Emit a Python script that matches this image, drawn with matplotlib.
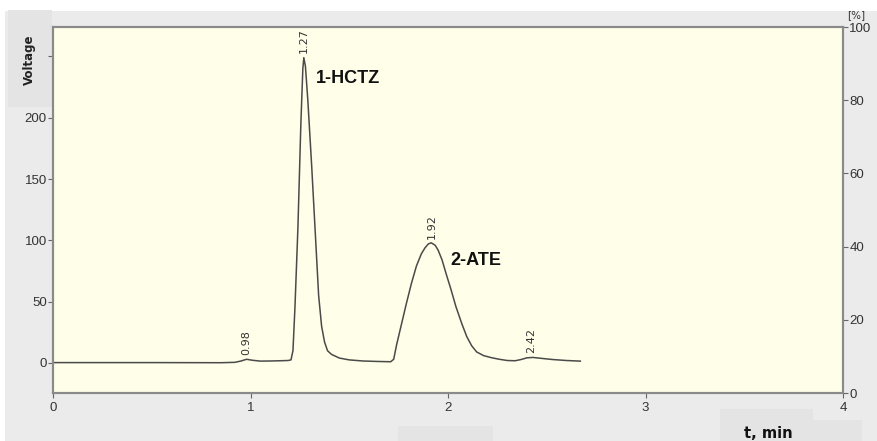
import matplotlib.pyplot as plt
from matplotlib.patches import Rectangle

W, H = 877, 441

# chromatogram trace (t in min, signal in voltage units)
t_min = [0.00, 0.50, 0.85, 0.92, 0.95, 0.98, 1.01, 1.05, 1.10, 1.15, 1.19,
         1.205, 1.215, 1.225, 1.24, 1.255, 1.265, 1.27, 1.278, 1.29, 1.31,
         1.33, 1.345, 1.36, 1.375, 1.39, 1.41, 1.45, 1.50, 1.57, 1.65, 1.71,
         1.725, 1.74, 1.765, 1.79, 1.815, 1.84, 1.865, 1.884, 1.90, 1.915,
         1.935, 1.95, 1.97, 1.99, 2.015, 2.04, 2.07, 2.095, 2.12, 2.145,
         2.18, 2.22, 2.26, 2.30, 2.34, 2.37, 2.40, 2.43, 2.47, 2.53, 2.60,
         2.67]
signal = [0.3, 0.3, 0.2, 0.5, 1.5, 3.0, 2.2, 1.5, 1.6, 1.8, 2.0,
          2.5, 10, 45, 110, 195, 240, 249, 242, 215, 160,
          100, 55, 30, 17, 10, 7, 4, 2.5, 1.6, 1.2, 1.0,
          3, 15, 32, 49, 65, 79, 89, 94, 97, 98,
          96, 92, 84, 73, 60, 46, 32, 21.5, 14, 9,
          6, 4.3, 3.0, 2.0, 1.8, 2.8, 4.2, 4.5, 3.8, 2.8, 2.0,
          1.5]

peak_times = [0.98, 1.27, 1.92, 2.42]
peak_heights = [3.0, 249, 98, 4.5]
peak_labels = ["0.98", "1.27", "1.92", "2.42"]

compound_names = ["1-HCTZ", "2-ATE"]
compound_pos = [(1.332, 228.6), (2.014, 80)]

x_ticks = [0, 1, 2, 3, 4]
left_ticks = [0, 50, 100, 150, 200, 250]
left_labels = ["0", "50", "100", "150", "200", ""]
right_ticks = [0, 20, 40, 60, 80, 100]


def fig_rect(fig, x0, y0, x1, y1, color):
    fig.add_artist(Rectangle((x0 / W, 1 - y1 / H), (x1 - x0) / W, (y1 - y0) / H,
                             transform=fig.transFigure, color=color, lw=0,
                             zorder=-5))


fig = plt.figure(figsize=(W / 100, H / 100), dpi=100, facecolor="white")
fig_rect(fig, 5, 11, W, H, "#ebebeb")
fig_rect(fig, 8, 10, 52, 107, "#e4e4e4")
fig_rect(fig, 720, 409, 813, H, "#e4e4e4")
fig_rect(fig, 813, 420, 862, H, "#e4e4e4")
fig_rect(fig, 398, 426, 493, H, "#e4e4e4")

ax = fig.add_axes([53 / W, 1 - 393 / H, 790 / W, 366 / H])
ax.set_facecolor("#fefee9")
ax.plot(t_min, signal, color="#4a4a4a", lw=1.1, solid_joinstyle="round")

for t, h, lab in zip(peak_times, peak_heights, peak_labels):
    ax.annotate(lab, (t, h), xytext=(0, 3), textcoords="offset points",
                rotation=90, ha="center", va="bottom", fontsize=8,
                color="#333333")

for name, (tx, ty) in zip(compound_names, compound_pos):
    ax.text(tx, ty, name, fontsize=13, fontweight="bold",
            family="Liberation Sans", color="#111111", ha="left",
            va="baseline")

ax.set_xlim(0, 4)
ax.set_ylim(-24.5, 274)
ax.set_xticks(x_ticks)
ax.set_yticks(left_ticks)
ax.set_yticklabels(left_labels)

ax2 = ax.twinx()
ax2.set_ylim(0, 100)
ax2.set_yticks(right_ticks)

for a in (ax, ax2):
    for s in a.spines.values():
        s.set_color("#8a8a8a")
        s.set_linewidth(1.5)
    a.tick_params(length=3.5, width=0.8, color="#666666", labelsize=9.5,
                  labelcolor="#333333", pad=1)
    for lab in a.get_xticklabels() + a.get_yticklabels():
        lab.set_family("Liberation Sans")
ax.tick_params(axis="x", pad=3)

fig.text(29 / W, 1 - 60 / H, "Voltage", rotation=90, fontsize=8.5,
         fontweight="bold", ha="center", va="center", color="#222222")
fig.text(856 / W, 1 - 15 / H, "[%]", fontsize=7.5, ha="center", va="center",
         color="#333333")
fig.text(768 / W, 1 - 438 / H, "t, min", fontsize=10.5, fontweight="bold",
         ha="center", va="baseline", color="#111111")

fig.savefig("out.png", dpi=100, facecolor=fig.get_facecolor())
